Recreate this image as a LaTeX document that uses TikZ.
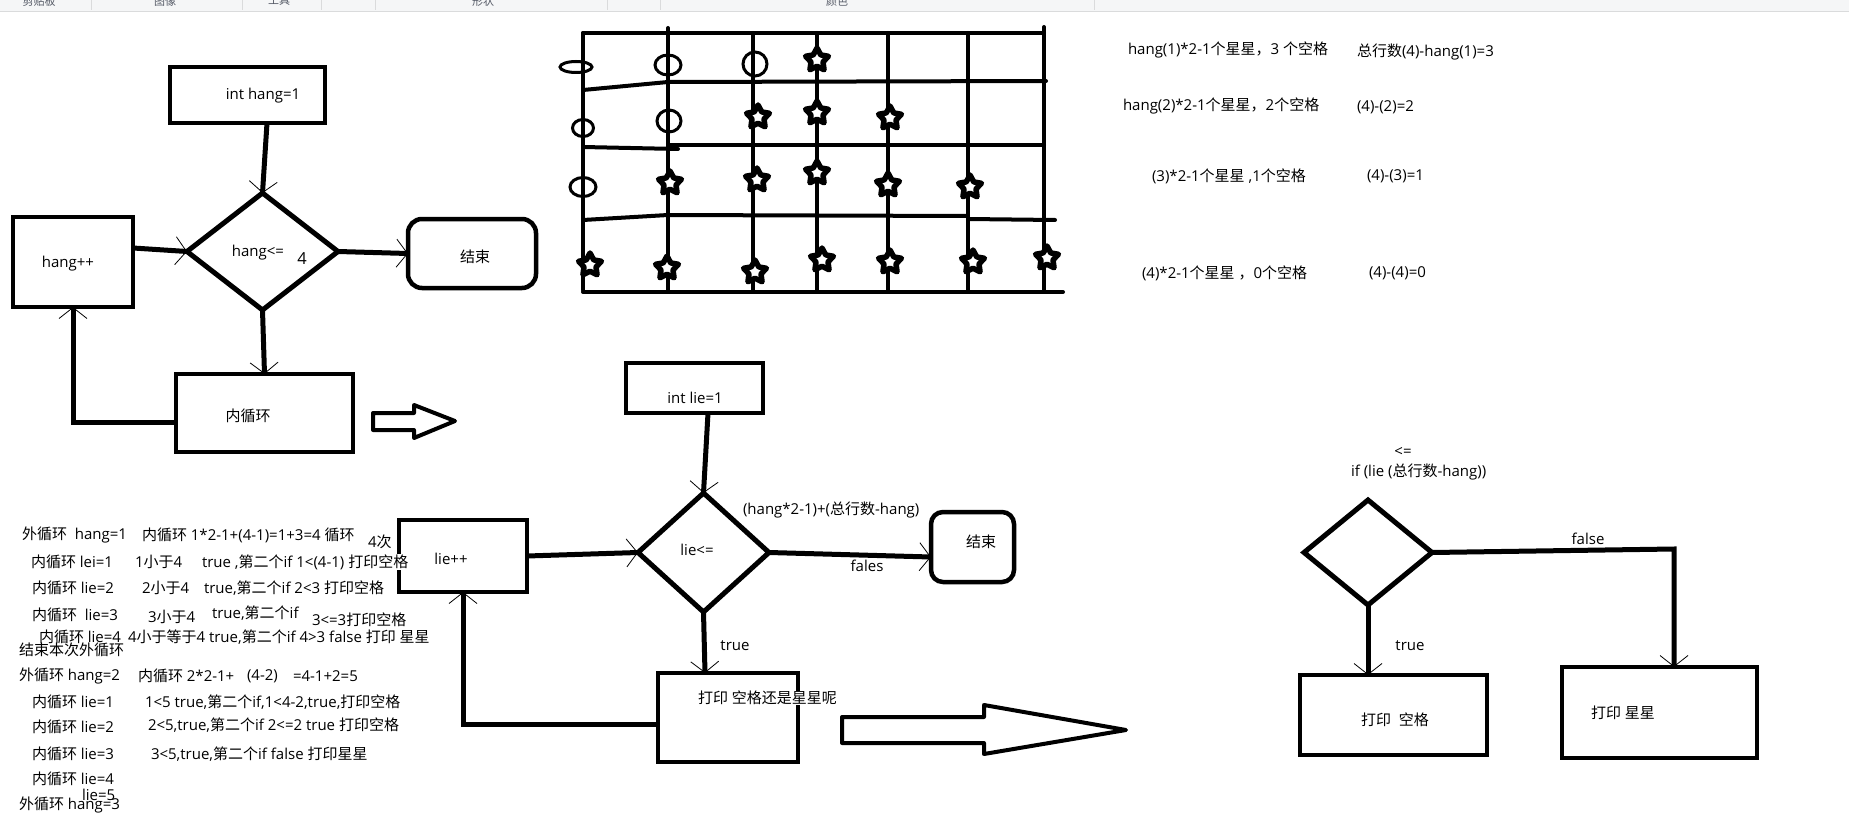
\documentclass[tikz,border=0pt]{standalone}
\usepackage{fontspec}
\setmainfont{Open Sans}
\newfontfamily\cjkfont{Noto Sans CJK SC}
\XeTeXinterchartokenstate=1
\newXeTeXintercharclass\CJKcls
\makeatletter
\count@="3000
\loop\XeTeXcharclass\count@=\CJKcls\ifnum\count@<"303F\advance\count@\@ne\repeat
\count@="4E00
\loop\XeTeXcharclass\count@=\CJKcls\ifnum\count@<"9FFF\advance\count@\@ne\repeat
\count@="FF00
\loop\XeTeXcharclass\count@=\CJKcls\ifnum\count@<"FFEF\advance\count@\@ne\repeat
\makeatother
\XeTeXinterchartoks 0 \CJKcls = {\begingroup\cjkfont}
\XeTeXinterchartoks 4095 \CJKcls = {\begingroup\cjkfont}
\XeTeXinterchartoks \CJKcls 0 = {\endgroup}
\XeTeXinterchartoks \CJKcls 4095 = {\endgroup}
\usetikzlibrary{shapes.geometric,arrows.meta}
\definecolor{barbg}{HTML}{F5F6F7}
\definecolor{barline}{HTML}{DADBDC}
\definecolor{bartxt}{HTML}{555A66}
\begin{document}
\begin{tikzpicture}[x=1pt,y=-1pt,
  every node/.style={font=\fontsize{15}{18}\selectfont, inner sep=0pt, outer sep=0pt},
  txt/.style={anchor=west},
  txtw/.style={anchor=west, fill=white},
  box/.style={draw, line width=4.5pt, rectangle},
  rbox/.style={draw, line width=4.5pt, rectangle, rounded corners=14pt},
  dec/.style={draw, line width=5pt, diamond, line join=miter},
  conn/.style={line width=5pt, -{Straight Barb[line width=0.8pt, length=11pt, width=28pt]}},
  gridline/.style={line width=4pt, line cap=round},
  circmark/.style={line width=3pt},
  starmark/.style={star, star points=5, star point ratio=1.9, minimum size=24pt, draw, line width=5.5pt, line join=round, fill=white},
  hollow/.style={draw, line width=4pt, line join=round}]
\useasboundingbox (0,0) rectangle (1849,829);
\fill[white] (0,0) rectangle (1849,829);
% toolbar
\begin{scope}
\clip (0,0) rectangle (1849,11);
\fill[barbg] (0,0) rectangle (1849,11);
\foreach \sx in {91,242,321,375,607,660,1094} \draw[barline, line width=0.8pt] (\sx,0) -- (\sx,10);
\node[font=\fontsize{11}{12}\selectfont, text=bartxt] (tb1) at (39,1) {剪贴板};
\node[font=\fontsize{11}{12}\selectfont, text=bartxt] (tb2) at (165,1) {图像};
\node[font=\fontsize{11}{12}\selectfont, text=bartxt] (tb3) at (279,1) {工具};
\node[font=\fontsize{11}{12}\selectfont, text=bartxt] (tb4) at (483,1) {形状};
\node[font=\fontsize{11}{12}\selectfont, text=bartxt] (tb5) at (837,1) {颜色};
\end{scope}
\draw[barline, line width=1.2pt] (0,11.5) -- (1849,11.5);

% ---------- top-left flowchart ----------
\node[box, minimum width=155pt, minimum height=56pt] (hinit) at (247.5,95) {};
\node (hinitt) at (263,96) {int hang=1};
\node[dec, minimum width=151pt, minimum height=117pt] (hdec) at (262.5,251.5) {};
\node (hdect) at (258,253) {hang<=};
\node[font=\fontsize{16.5}{18}\selectfont] (hdec4) at (302,259) {4};
\node[box, minimum width=120pt, minimum height=90pt] (hinc) at (73,262) {};
\node (hinct) at (68,264) {hang++};
\node[rbox, minimum width=128pt, minimum height=69pt] (hend) at (472,253.5) {};
\node (hendt) at (475,257) {结束};
\node[box, minimum width=177pt, minimum height=78pt] (hinner) at (264.5,413) {};
\node (hinnert) at (248,416) {内循环};
\coordinate (a1) at (267,123);
\coordinate (a2) at (133,248);
\coordinate (a3) at (176,422);
\draw[conn] (a1) -- (hdec.north);
\draw[conn] (hdec.south) -- (hinner.north);
\draw[conn] (a2) -- (hdec.west);
\draw[conn] (hdec.east) -- (hend.west);
\draw[conn] (a3) -- (a3 -| hinc.south) -- (hinc.south);
\draw[hollow] (373,413) -- (414,413) -- (414,405) -- (455,421) -- (414,438) -- (414,430) -- (373,430) -- cycle;

% ---------- grid ----------
\foreach \gx in {583,668,753,817,888,968,1044} \draw[gridline] (\gx,33) -- (\gx,290);
\draw[gridline] (668,28) -- (668,33);
\draw[gridline] (1044,27) -- (1044,33);
\draw[gridline] (583,33) -- (1044,33);
\draw[gridline] (583,90) -- (668,82) -- (1046,81);
\draw[gridline] (583,147) -- (678,149);
\draw[gridline] (668,145) -- (1044,145);
\draw[gridline] (583,220) -- (668,215) -- (968,216);
\draw[gridline] (968,219) -- (1055,220);
\draw[gridline] (583,292) -- (1063,292);
\draw[circmark] (576,67) ellipse [x radius=16, y radius=5.5];
\draw[circmark] (668,65) ellipse [x radius=13, y radius=10];
\draw[circmark] (755,64) ellipse [x radius=12, y radius=12];
\draw[circmark] (583,128) ellipse [x radius=10.5, y radius=8.5];
\draw[circmark] (669,121) ellipse [x radius=12, y radius=11];
\draw[circmark] (583,187) ellipse [x radius=13, y radius=9.5];
\node[starmark] (s01) at (817,60) {};
\node[starmark] (s02) at (758,117) {};
\node[starmark] (s03) at (817,113) {};
\node[starmark] (s04) at (890,118) {};
\node[starmark] (s05) at (670,183) {};
\node[starmark] (s06) at (757,180) {};
\node[starmark] (s07) at (817,173) {};
\node[starmark] (s08) at (888,185) {};
\node[starmark] (s09) at (970,187) {};
\node[starmark] (s10) at (590,265) {};
\node[starmark] (s11) at (667,268) {};
\node[starmark] (s12) at (755,272) {};
\node[starmark] (s13) at (822,260) {};
\node[starmark] (s14) at (890,262) {};
\node[starmark] (s15) at (973,262) {};
\node[starmark] (s16) at (1047,258) {};

% ---------- top-right notes ----------
\node[txt] (n1a) at (1128,50) {hang(1)*2-1个星星，3 个空格};
\node[txt] (n1b) at (1357,52) {总行数(4)-hang(1)=3};
\node[txt] (n2a) at (1123,106) {hang(2)*2-1个星星，2个空格};
\node[txt] (n2b) at (1357,107) {(4)-(2)=2};
\node[txt] (n3a) at (1152,176) {(3)*2-1个星星 ,1个空格};
\node[txt] (n3b) at (1367,176) {(4)-(3)=1};
\node[txt] (n4a) at (1142,273) {(4)*2-1个星星 ，0个空格};
\node[txt] (n4b) at (1369,273) {(4)-(4)=0};

% ---------- middle flowchart ----------
\node[box, minimum width=137pt, minimum height=50pt] (linit) at (694.5,388) {};
\node (linitt) at (695,398) {int lie=1};
\node[dec, minimum width=131pt, minimum height=119pt] (ldec) at (703.5,552.5) {};
\node (ldect) at (697,550) {lie<=};
\node[box, minimum width=128pt, minimum height=72pt] (linc) at (463,556) {};
\node (linct) at (451,559) {lie++};
\node[rbox, minimum width=83pt, minimum height=70pt, rounded corners=12pt] (lend) at (972.5,547) {};
\node (lendt) at (981,542) {结束};
\node[box, minimum width=140pt, minimum height=89pt] (lprint) at (728,717.5) {};
\node[txtw] (lprintt) at (698,698) {打印 空格还是星星呢};
\node[txt] (lcond) at (743,510) {(hang*2-1)+(总行数-hang)};
\node (lfales) at (867,566) {fales};
\node (ltrue) at (735,646) {true};
\coordinate (b1) at (708,413);
\coordinate (b2) at (931,557);
\coordinate (b3) at (705,673);
\coordinate (b4) at (658,724);
\draw[conn] (b1) -- (ldec.north);
\draw[conn] (linc.east) -- (ldec.west);
\draw[conn] (ldec.east) -- (b2);
\draw[conn] (ldec.south) -- (b3);
\draw[conn] (b4) -- (b4 -| linc.south) -- (linc.south);
\draw[hollow] (842,717) -- (984,717) -- (984,705) -- (1126,730) -- (984,754) -- (984,743) -- (842,743) -- cycle;

% ---------- right flowchart ----------
\node (rle) at (1403,452) {<=};
\node[txt] (rif) at (1351,472) {if (lie (总行数-hang))};
\node[dec, minimum width=128pt, minimum height=105pt] (rdec) at (1368,552.5) {};
\node[box, minimum width=187pt, minimum height=80pt] (rspace) at (1393.5,715) {};
\node (rspacet) at (1395,720) {打印 \ 空格};
\node[box, minimum width=195pt, minimum height=91pt] (rstar) at (1659.5,712.5) {};
\node (rstart) at (1623,713) {打印 星星};
\node (rtrue) at (1410,646) {true};
\node (rfalse) at (1588,539) {false};
\coordinate (c1) at (1368,675);
\coordinate (c2) at (1674,549);
\draw[conn] (rdec.south) -- (c1);
\draw[conn] (rdec.east) -- (c2) -- (c2 |- rstar.north);

% ---------- bottom-left notes ----------
\node[txt] (m1a) at (22,535) {外循环 \ hang=1};
\node[txt] (m1b) at (142,535) {内循环 1*2-1+(4-1)=1+3=4 循环};
\node[txt] (m1c) at (368,542) {4次};
\node[txt] (m2a) at (31,562) {内循环 lei=1};
\node[txt] (m2b) at (135,562) {1小于4};
\node[txtw] (m2c) at (202,562) {true ,第二个if 1<(4-1) 打印空格};
\node[txt] (m3a) at (32,588) {内循环 lie=2};
\node[txt] (m3b) at (142,588) {2小于4};
\node[txt] (m3c) at (204,588) {true,第二个if 2<3 打印空格};
\node[txt] (m4a) at (32,615) {内循环 \ lie=3};
\node[txt] (m4b) at (148,617) {3小于4};
\node[txt] (m4c) at (212,613) {true,第二个if};
\node[txt] (m4d) at (312,620) {3<=3打印空格};
\node[txt] (m5a) at (39,637) {内循环 lie=4};
\node[txt] (m5b) at (128,637) {4小于等于4 true,第二个if 4>3 false 打印 星星};
\node[txt] (m6) at (19,650) {结束本次外循环};
\node[txt] (m7a) at (19,676) {外循环 hang=2};
\node[txt] (m7b) at (138,676) {内循环 2*2-1+};
\node[txt] (m7c) at (247,676) {(4-2)};
\node[txt] (m7d) at (293,676) {=4-1+2=5};
\node[txt] (m8a) at (32,702) {内循环 lie=1};
\node[txt] (m8b) at (145,702) {1<5 true,第二个if,1<4-2,true,打印空格};
\node[txt] (m9a) at (32,727) {内循环 lie=2};
\node[txt] (m9b) at (148,725) {2<5,true,第二个if 2<=2 true 打印空格};
\node[txt] (m10a) at (32,754) {内循环 lie=3};
\node[txt] (m10b) at (151,754) {3<5,true,第二个if false 打印星星};
\node[txt] (m11) at (32,779) {内循环 lie=4};
\node[txt] (m12) at (82,795) {lie=5};
\node[txt] (m13) at (19,805) {外循环 hang=3};
\end{tikzpicture}
\end{document}
